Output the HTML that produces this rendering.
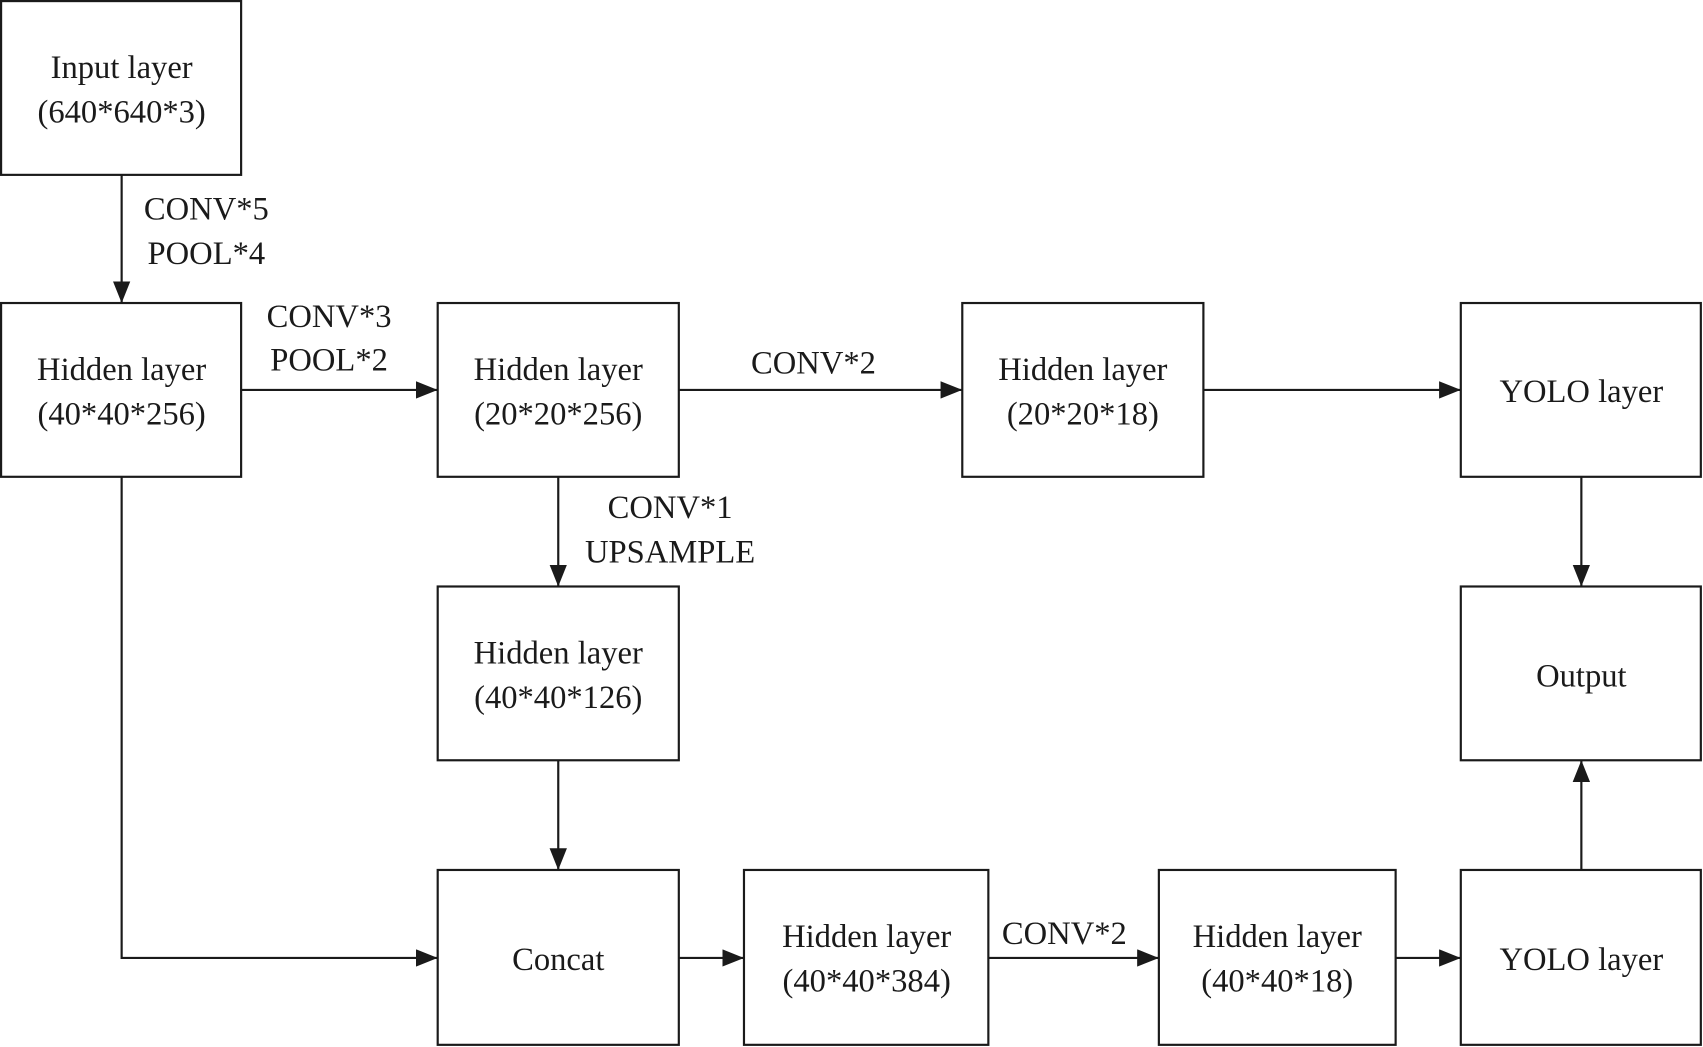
<!DOCTYPE html>
<html><head><meta charset="utf-8"><style>html,body{margin:0;padding:0;background:#fff}svg{display:block}</style></head>
<body>
<svg width="1703" height="1047" viewBox="0 0 1568 964" preserveAspectRatio="none" xmlns="http://www.w3.org/2000/svg">
<defs><marker id="a" markerWidth="10" markerHeight="10" refX="10" refY="5" orient="auto" markerUnits="userSpaceOnUse"><path d="M0,0 L10,5 L0,10 Z" fill="#1a1a1a" transform="scale(1)"/></marker>
<marker id="b" viewBox="0 0 20 16" markerWidth="20" markerHeight="16" refX="20" refY="8" orient="auto" markerUnits="userSpaceOnUse"><path d="M0,0 L20,8 L0,16 Z" fill="#1a1a1a"/></marker></defs>
<g fill="#fff" stroke="#1a1a1a" stroke-width="2">
<rect x="1" y="1" width="221" height="160"/>
<rect x="1" y="279" width="221" height="160"/>
<rect x="403" y="279" width="222" height="160"/>
<rect x="886" y="279" width="222" height="160"/>
<rect x="1345" y="279" width="221" height="160"/>
<rect x="403" y="540" width="222" height="160"/>
<rect x="1345" y="540" width="221" height="160"/>
<rect x="403" y="801" width="222" height="161"/>
<rect x="685" y="801" width="225" height="161"/>
<rect x="1067" y="801" width="218" height="161"/>
<rect x="1345" y="801" width="221" height="161"/>
</g>
<g fill="none" stroke="#1a1a1a" stroke-width="2" marker-end="url(#b)">
<path d="M112 161 V279"/>
<path d="M222 359 H403"/>
<path d="M625 359 H886"/>
<path d="M1108 359 H1345"/>
<path d="M514 439 V540"/>
<path d="M514 700 V801"/>
<path d="M112 439 V882 H403"/>
<path d="M625 882 H685"/>
<path d="M910 882 H1067"/>
<path d="M1285 882 H1345"/>
<path d="M1456 439 V540"/>
<path d="M1456 801 V700"/>
</g>
<g font-family="Liberation Serif, serif" font-size="30" fill="#1a1a1a" text-anchor="middle">
<text x="112" y="72">Input layer</text><text x="112" y="113">(640*640*3)</text>
<text x="112" y="350">Hidden layer</text><text x="112" y="391">(40*40*256)</text>
<text x="514" y="350">Hidden layer</text><text x="514" y="391">(20*20*256)</text>
<text x="997" y="350">Hidden layer</text><text x="997" y="391">(20*20*18)</text>
<text x="1456" y="370">YOLO layer</text>
<text x="514" y="611">Hidden layer</text><text x="514" y="652">(40*40*126)</text>
<text x="1456" y="632">Output</text>
<text x="514" y="893">Concat</text>
<text x="798" y="872">Hidden layer</text><text x="798" y="913">(40*40*384)</text>
<text x="1176" y="872">Hidden layer</text><text x="1176" y="913">(40*40*18)</text>
<text x="1456" y="893">YOLO layer</text>
<text x="190" y="202">CONV*5</text><text x="190" y="243">POOL*4</text>
<text x="303" y="301">CONV*3</text><text x="303" y="341">POOL*2</text>
<text x="749" y="344">CONV*2</text>
<text x="617" y="477">CONV*1</text><text x="617" y="518">UPSAMPLE</text>
<text x="980" y="869">CONV*2</text>
</g>
</svg>
</body></html>
